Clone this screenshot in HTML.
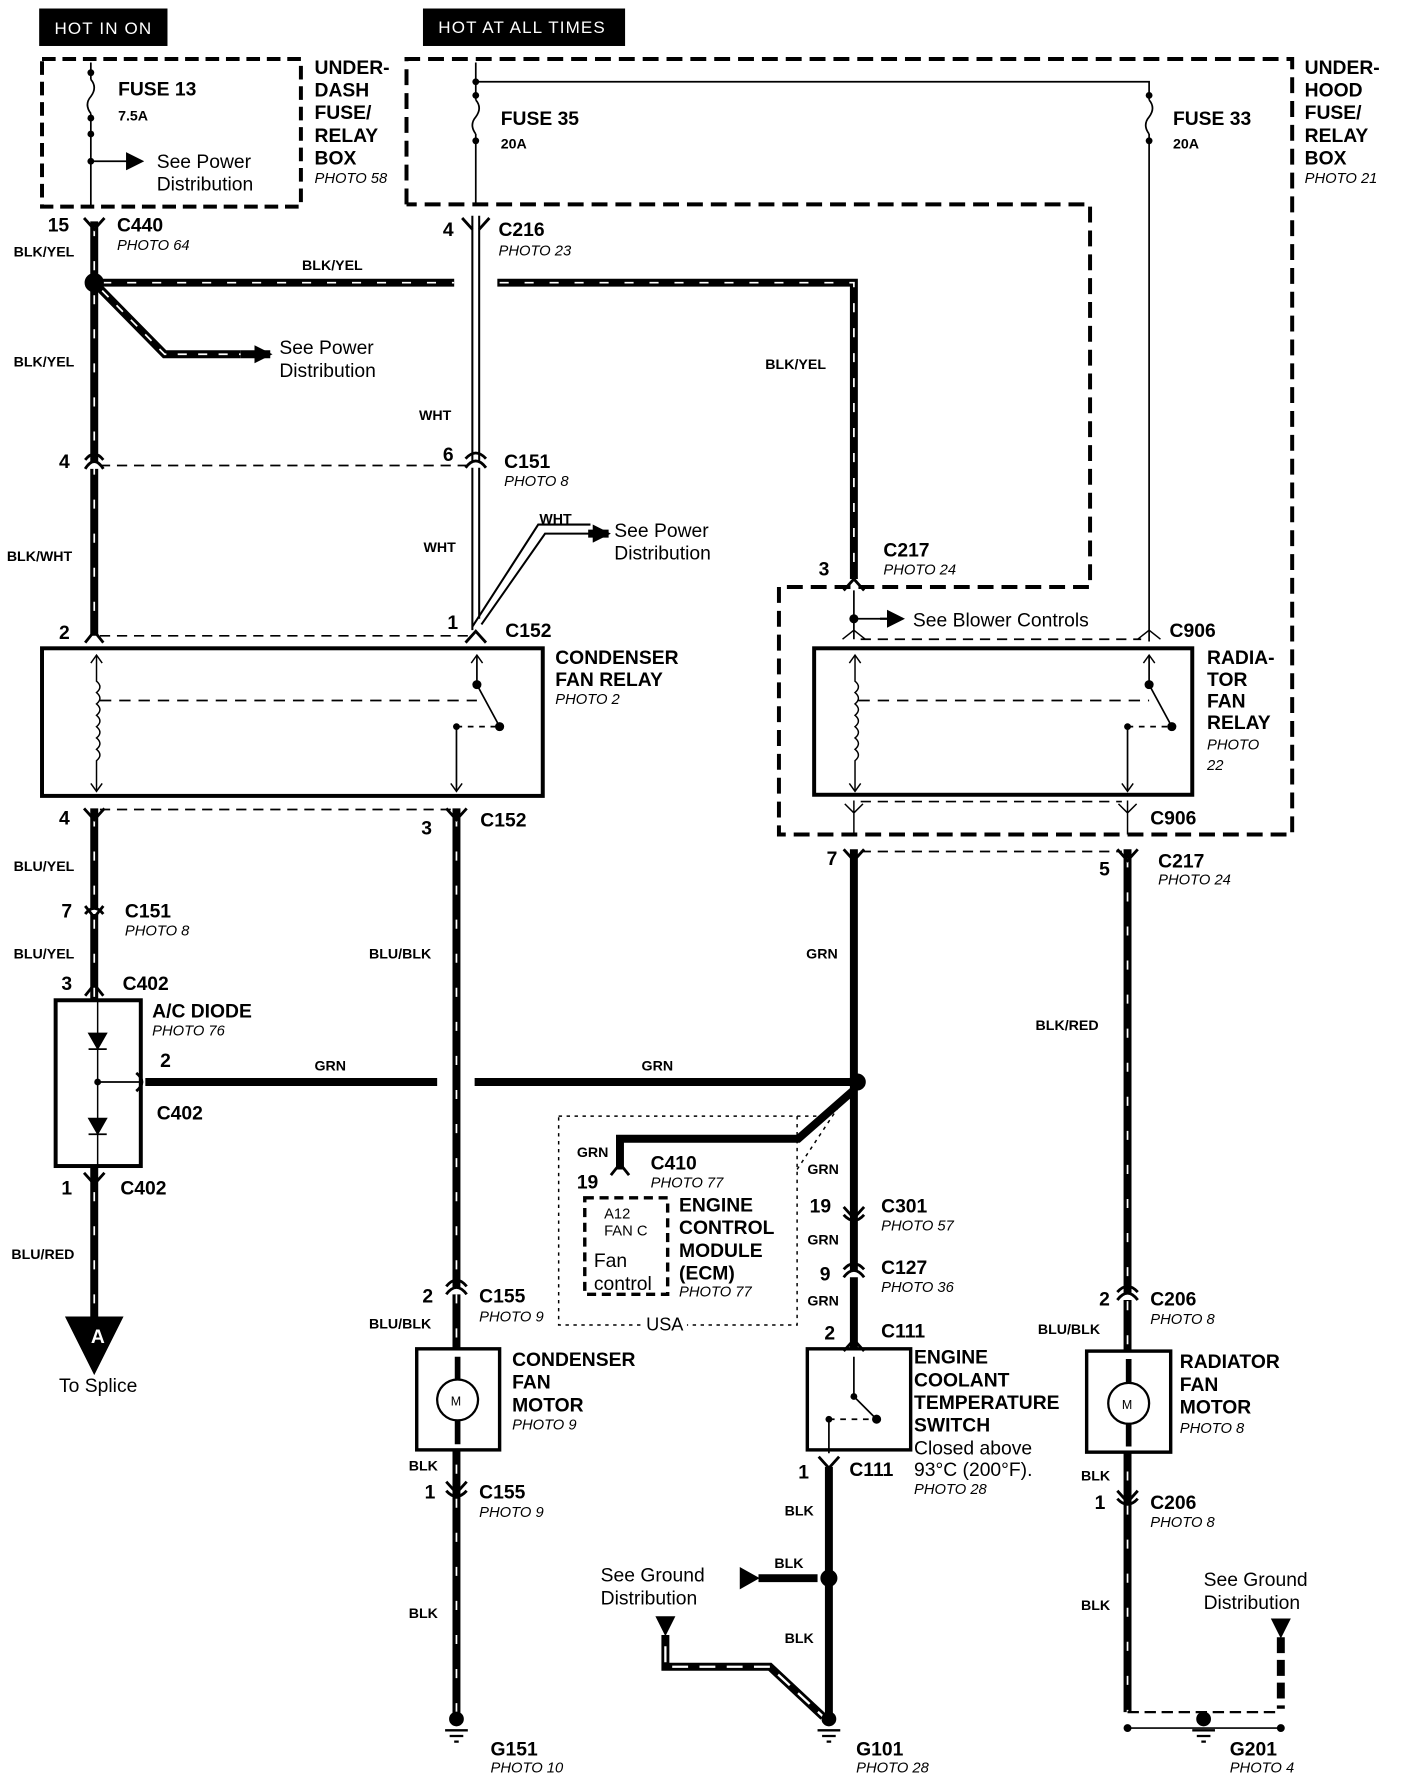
<!DOCTYPE html>
<html><head><meta charset="utf-8"><style>
html,body{margin:0;padding:0;background:#fff}
svg{display:block}
text{font-family:"Liberation Sans",sans-serif;fill:#000}
.b{font-weight:bold;font-size:17px}
.w{font-weight:bold;font-size:12.5px}
.p{font-style:italic;font-size:13px}
.n{font-size:17px}
</style></head><body>
<svg width="1408" height="1778" viewBox="0 0 1240 1566" preserveAspectRatio="none" xmlns="http://www.w3.org/2000/svg">
<defs>
<marker id="ab" markerWidth="16" markerHeight="16" refX="14" refY="8" orient="auto" markerUnits="userSpaceOnUse"><path d="M0,0 L16,8 L0,16 z"/></marker>
</defs>
<g fill="none" stroke="#000">
<rect x="35" y="8" width="112" height="32" fill="#000"/>
<rect x="373" y="8" width="177" height="32" fill="#000"/>
<path d="M37,52 H265 V182 H37 Z" stroke-width="3.5" stroke-dasharray="12,6"/>
<path d="M358,180 V52 H1138 V735 H686 V517 H960 V180 H358" stroke-width="3.5" stroke-dasharray="14,7"/>
<path d="M80,55 V70 M80,100 V182" stroke-width="1.5"/>
<path d="M80,70 q6,7 0,15 q-6,7 0,15" stroke-width="1.5"/>
<path d="M80,142 H125" stroke-width="1.5" marker-end="url(#ab)"/>
<path d="M419,55 V88 M419,118 V180 M419,72 H1012 V88 M1012,118 V565" stroke-width="1.5"/>
<path d="M419,88 q6,7 0,15 q-6,7 0,15 M1012,88 q6,7 0,15 q-6,7 0,15" stroke-width="1.5"/>
<path d="M83,195 V560" stroke-width="7"/>
<path d="M83,200 V560" stroke="#fff" stroke-width="1.5" stroke-dasharray="8,22"/>
<path d="M83,249 H400 M438,249 H752 V510" stroke-width="7"/>
<path d="M90,249 H400 M440,249 H752 V510" stroke="#fff" stroke-width="1.5" stroke-dasharray="8,14"/>
<path d="M83,249 L145,312 H212" stroke-width="7"/>
<path d="M90,256 L145,312 H212" stroke="#fff" stroke-width="1.5" stroke-dasharray="8,10"/>
<path d="M212,312 L238,312" stroke-width="7" marker-end="url(#ab)"/>
<path d="M416,190 V555 M422,190 V545" stroke-width="1.8"/>
<path d="M416,552 L474,462 H520 M424,550 L480,470 H520" stroke-width="1.8"/>
<path d="M518,470 H536" stroke-width="7" marker-end="url(#ab)"/>
<path d="M88,410 H414 M88,560 H414" stroke-width="1.5" stroke-dasharray="9,6"/>
<rect x="37" y="571" width="441" height="130" stroke-width="3.5"/>
<path d="M85,577 V600 q6,5 0,10 q6,5 0,10 q6,5 0,10 q6,5 0,10 q6,5 0,10 q6,5 0,10 q6,5 0,10 V697" stroke-width="1.3"/>
<path d="M80,584 L85,577 L90,584 M80,690 L85,697 L90,690 M415,584 L420,577 L425,584 M397,690 L402,697 L407,690" stroke-width="1.3"/>
<path d="M88,617 H420" stroke-width="1.5" stroke-dasharray="10,7"/>
<path d="M420,577 V603 L440,640 M402,640 V697" stroke-width="1.5"/>
<path d="M402,640 H440" stroke-width="1.5" stroke-dasharray="5,5"/>
<rect x="717" y="571" width="333" height="129" stroke-width="3.5"/>
<path d="M753,577 V600 q6,5 0,10 q6,5 0,10 q6,5 0,10 q6,5 0,10 q6,5 0,10 q6,5 0,10 q6,5 0,10 V697" stroke-width="1.3"/>
<path d="M748,584 L753,577 L758,584 M748,690 L753,697 L758,690 M1007,584 L1012,577 L1017,584 M988,690 L993,697 L998,690" stroke-width="1.3"/>
<path d="M756,617 H1012" stroke-width="1.5" stroke-dasharray="10,7"/>
<path d="M1012,577 V603 L1032,640 M993,640 V697" stroke-width="1.5"/>
<path d="M993,640 H1032" stroke-width="1.5" stroke-dasharray="5,5"/>
<path d="M752,520 V563 M752,545 H775" stroke-width="1.5"/>
<path d="M775,545 H795" stroke-width="2" marker-end="url(#ab)"/>
<path d="M758,563 H1005 M758,706 H988" stroke-width="1.5" stroke-dasharray="9,6"/>
<path d="M742,563 L752,555 L762,563 M1002,563 L1012,555 L1022,563" stroke-width="1.3"/>
<path d="M752,705 V735 M993,705 V735 M744,708 L752,716 L760,708 M985,708 L993,716 L1001,708" stroke-width="1.3"/>
<path d="M758,750 H988 M88,713 H398" stroke-width="1.5" stroke-dasharray="9,6"/>
<path d="M83,712 V1160" stroke-width="7"/>
<path d="M83,720 V1160" stroke="#fff" stroke-width="1.5" stroke-dasharray="8,22"/>
<path d="M58,1160 H108 L83,1210 Z" fill="#000"/>
<rect x="49" y="881" width="75" height="146" stroke-width="3.5" fill="#fff"/>
<path d="M86,881 V1027" stroke-width="1.3"/>
<path d="M78,910 H94 L86,924 Z M78,985 H94 L86,999 Z" fill="#000" stroke-width="1"/>
<path d="M78,924 H94 M78,999 H94 M86,953 H126" stroke-width="1.5"/>
<path d="M402,712 V1510" stroke-width="7"/>
<path d="M402,720 V1510" stroke="#fff" stroke-width="1.5" stroke-dasharray="8,22"/>
<rect x="367" y="1188" width="73" height="89" stroke-width="3" fill="#fff"/>
<circle cx="403" cy="1233" r="18" stroke-width="2"/>
<path d="M403,1195 V1215 M403,1251 V1272" stroke-width="5"/>
<path d="M128,953 H385 M418,953 H755" stroke-width="7"/>
<path d="M752,748 V1188" stroke-width="7"/>
<circle cx="755" cy="953" r="7" fill="#000"/>
<path d="M752,960 L703,1003 H546 V1030" stroke-width="7"/>
<rect x="492" y="983" width="210" height="184" stroke-width="1.3" stroke-dasharray="3,4"/>
<path d="M702,983 H728 L745,965 M702,1030 L745,965" stroke-width="1.3" stroke-dasharray="3,4"/>
<rect x="515" y="1055" width="73" height="85" stroke-width="3" stroke-dasharray="8,5" fill="#fff"/>
<rect x="711" y="1188" width="91" height="89" stroke-width="3" fill="#fff"/>
<path d="M752,1195 V1230 L772,1250 M730,1250 V1280" stroke-width="1.5"/>
<path d="M730,1250 H772" stroke-width="1.5" stroke-dasharray="5,5"/>
<path d="M730,1292 V1510" stroke-width="7"/>
<circle cx="730" cy="1390" r="7" fill="#000"/>
<path d="M668,1390 H720" stroke-width="7"/>
<path d="M652,1381 L668,1390 L652,1399 Z" fill="#000"/>
<path d="M578,1424 H594 L586,1440 Z" fill="#000"/>
<path d="M586,1440 V1468 H678 L725,1512" stroke-width="7"/>
<path d="M586,1450 V1468 H678 L725,1512" stroke="#fff" stroke-width="2" stroke-dasharray="14,10"/>
<path d="M993,748 V1508" stroke-width="7"/>
<path d="M993,756 V1508" stroke="#fff" stroke-width="1.5" stroke-dasharray="8,22"/>
<rect x="957" y="1190" width="74" height="89" stroke-width="3" fill="#fff"/>
<circle cx="994" cy="1236" r="18" stroke-width="2"/>
<path d="M994,1197 V1218 M994,1254 V1274" stroke-width="5"/>
<path d="M1120,1426 H1136 L1128,1442 Z" fill="#000"/>
<path d="M1128,1442 V1505" stroke-width="7" stroke-dasharray="14,6"/>
<path d="M993,1508 H1128" stroke-width="2" stroke-dasharray="10,5"/>
<path d="M993,1522 H1128" stroke-width="1.5"/>
<circle cx="993" cy="1522" r="3" fill="#000"/><circle cx="1128" cy="1522" r="3" fill="#000"/>
<g stroke-width="2">
<path d="M392,1524 H412 M396,1529 H408 M400,1534 H404"/>
<path d="M720,1524 H740 M724,1529 H736 M728,1534 H732"/>
<path d="M1050,1524 H1070 M1054,1529 H1066 M1058,1534 H1062"/>
</g>
<circle cx="402" cy="1514" r="6" fill="#000"/><circle cx="730" cy="1514" r="6" fill="#000"/><circle cx="1060" cy="1514" r="6" fill="#000"/>
<circle cx="83" cy="249" r="8" fill="#000" stroke-width="1"/>
<g fill="#000" stroke="none">
<circle cx="80" cy="64" r="3"/><circle cx="80" cy="104" r="3"/><circle cx="80" cy="118" r="3"/><circle cx="80" cy="142" r="3"/>
<circle cx="419" cy="72" r="3"/><circle cx="419" cy="84" r="3"/><circle cx="419" cy="124" r="3"/>
<circle cx="1012" cy="84" r="3"/><circle cx="1012" cy="124" r="3"/>
<circle cx="420" cy="603" r="4"/><circle cx="440" cy="640" r="4"/><circle cx="402" cy="640" r="3"/>
<circle cx="1012" cy="603" r="4"/><circle cx="1032" cy="640" r="4"/><circle cx="993" cy="640" r="3"/>
<circle cx="752" cy="545" r="4"/>
<circle cx="752" cy="1230" r="3"/><circle cx="772" cy="1250" r="4"/><circle cx="730" cy="1250" r="3"/>
<circle cx="86" cy="953" r="3"/>
</g>
<g stroke-width="2.5" fill="#fff">
<path d="M74,192 L83,202 L92,192" fill="none"/>
<path d="M407,192 L416,202 M431,192 L422,202" fill="none"/>
<path d="M75,413 Q83,400 91,413" /><path d="M75,405 Q83,395 91,405" fill="none"/>
<path d="M410,412 Q419,400 428,412"/><path d="M410,404 Q419,394 428,404" fill="none"/>
<path d="M75,566 L83,556 L91,566" fill="none"/>
<path d="M410,566 L419,556 L428,566" fill="none"/>
<path d="M74,712 L83,722 L92,712" fill="none"/>
<path d="M393,712 L402,722 L411,712" fill="none"/>
<path d="M743,748 L752,758 L761,748" fill="none"/>
<path d="M984,748 L993,758 L1002,748" fill="none"/>
<path d="M743,520 L752,510 L761,520" fill="none"/>
<path d="M75,805 Q83,795 91,805"/><path d="M75,798 L83,808 L91,798" fill="none"/>
<path d="M75,877 L83,867 L91,877" fill="none"/>
<path d="M74,1033 L83,1043 L92,1033" fill="none"/>
<path d="M120,945 Q130,953 120,961" fill="none"/>
<path d="M393,1140 Q402,1128 411,1140"/><path d="M393,1133 Q402,1122 411,1133" fill="none"/>
<path d="M393,1305 L402,1315 L411,1305" fill="none"/><path d="M393,1313 Q402,1323 411,1313" fill="none"/>
<path d="M743,1063 L752,1073 L761,1063" fill="none"/><path d="M743,1070 Q752,1080 761,1070" fill="none"/>
<path d="M743,1125 Q752,1113 761,1125"/><path d="M743,1118 Q752,1108 761,1118" fill="none"/>
<path d="M743,1190 L752,1180 L761,1190" fill="none"/>
<path d="M721,1283 L730,1293 L739,1283" fill="none"/>
<path d="M538,1035 L546,1025 L554,1035" fill="none"/>
<path d="M984,1145 Q993,1133 1002,1145"/><path d="M984,1138 Q993,1128 1002,1138" fill="none"/>
<path d="M984,1313 L993,1323 L1002,1313" fill="none"/><path d="M984,1320 Q993,1330 1002,1320" fill="none"/>
</g>
</g>
<text x="48" y="30" font-size="15" style="fill:#fff" letter-spacing="1">HOT IN ON</text>
<text x="386" y="29" font-size="15" style="fill:#fff" letter-spacing="1">HOT AT ALL TIMES</text>
<text class="b" x="104" y="84">FUSE 13</text><text class="w" x="104" y="106">7.5A</text>
<text class="n" x="138" y="148">See Power</text><text class="n" x="138" y="168">Distribution</text>
<text class="b" x="277" y="65">UNDER-</text><text class="b" x="277" y="85">DASH</text><text class="b" x="277" y="105">FUSE/</text><text class="b" x="277" y="125">RELAY</text><text class="b" x="277" y="145">BOX</text><text class="p" x="277" y="161">PHOTO 58</text>
<text class="b" x="441" y="110">FUSE 35</text><text class="w" x="441" y="131">20A</text>
<text class="b" x="1033" y="110">FUSE 33</text><text class="w" x="1033" y="131">20A</text>
<text class="b" x="1149" y="65">UNDER-</text><text class="b" x="1149" y="85">HOOD</text><text class="b" x="1149" y="105">FUSE/</text><text class="b" x="1149" y="125">RELAY</text><text class="b" x="1149" y="145">BOX</text><text class="p" x="1149" y="161">PHOTO 21</text>
<text class="b" x="42" y="204">15</text><text class="b" x="103" y="204">C440</text><text class="p" x="103" y="220">PHOTO 64</text>
<text class="w" x="12" y="226">BLK/YEL</text><text class="w" x="266" y="238">BLK/YEL</text>
<text class="b" x="390" y="208">4</text><text class="b" x="439" y="208">C216</text><text class="p" x="439" y="225">PHOTO 23</text>
<text class="n" x="246" y="312">See Power</text><text class="n" x="246" y="332">Distribution</text>
<text class="w" x="12" y="323">BLK/YEL</text><text class="w" x="674" y="325">BLK/YEL</text>
<text class="w" x="369" y="370">WHT</text>
<text class="b" x="52" y="412">4</text><text class="b" x="390" y="406">6</text><text class="b" x="444" y="412">C151</text><text class="p" x="444" y="428">PHOTO 8</text>
<text class="w" x="373" y="486">WHT</text><text class="w" x="475" y="461">WHT</text>
<text class="n" x="541" y="473">See Power</text><text class="n" x="541" y="493">Distribution</text>
<text class="w" x="6" y="494">BLK/WHT</text>
<text class="b" x="778" y="490">C217</text><text class="p" x="778" y="506">PHOTO 24</text><text class="b" x="721" y="507">3</text>
<text class="n" x="804" y="552">See Blower Controls</text><text class="b" x="1030" y="561">C906</text>
<text class="b" x="52" y="563">2</text><text class="b" x="394" y="554">1</text><text class="b" x="445" y="561">C152</text>
<text class="b" x="489" y="585">CONDENSER</text><text class="b" x="489" y="604">FAN RELAY</text><text class="p" x="489" y="620">PHOTO 2</text>
<text class="b" x="1063" y="585">RADIA-</text><text class="b" x="1063" y="604">TOR</text><text class="b" x="1063" y="623">FAN</text><text class="b" x="1063" y="642">RELAY</text><text class="p" x="1063" y="660">PHOTO</text><text class="p" x="1063" y="678">22</text>
<text class="b" x="52" y="726">4</text><text class="b" x="371" y="735">3</text><text class="b" x="423" y="728">C152</text>
<text class="b" x="1013" y="726">C906</text>
<text class="b" x="728" y="762">7</text><text class="b" x="968" y="771">5</text><text class="b" x="1020" y="764">C217</text><text class="p" x="1020" y="779">PHOTO 24</text>
<text class="w" x="12" y="767">BLU/YEL</text><text class="b" x="54" y="808">7</text><text class="b" x="110" y="808">C151</text><text class="p" x="110" y="824">PHOTO 8</text>
<text class="w" x="12" y="844">BLU/YEL</text><text class="w" x="325" y="844">BLU/BLK</text><text class="w" x="710" y="844">GRN</text>
<text class="b" x="54" y="872">3</text><text class="b" x="108" y="872">C402</text>
<text class="b" x="134" y="896">A/C DIODE</text><text class="p" x="134" y="912">PHOTO 76</text>
<text class="w" x="912" y="907">BLK/RED</text>
<text class="b" x="141" y="940">2</text><text class="w" x="277" y="943">GRN</text><text class="w" x="565" y="943">GRN</text>
<text class="b" x="138" y="986">C402</text>
<text class="w" x="508" y="1019">GRN</text><text class="b" x="573" y="1030">C410</text><text class="p" x="573" y="1046">PHOTO 77</text>
<text class="w" x="711" y="1034">GRN</text>
<text class="b" x="54" y="1052">1</text><text class="b" x="106" y="1052">C402</text>
<text class="b" x="508" y="1047">19</text>
<text x="532" y="1073" font-size="13">A12</text><text x="532" y="1088" font-size="13">FAN C</text>
<text x="523" y="1116" font-size="17">Fan</text><text x="523" y="1136" font-size="17">control</text>
<text class="b" x="598" y="1067">ENGINE</text><text class="b" x="598" y="1087">CONTROL</text><text class="b" x="598" y="1107">MODULE</text><text class="b" x="598" y="1127">(ECM)</text><text class="p" x="598" y="1142">PHOTO 77</text>
<text class="b" x="713" y="1068">19</text><text class="b" x="776" y="1068">C301</text><text class="p" x="776" y="1084">PHOTO 57</text>
<text class="w" x="711" y="1096">GRN</text>
<text class="b" x="722" y="1128">9</text><text class="b" x="776" y="1122">C127</text><text class="p" x="776" y="1138">PHOTO 36</text>
<text class="w" x="711" y="1150">GRN</text>
<text class="w" x="10" y="1109">BLU/RED</text>
<text x="80" y="1183" font-size="17" style="fill:#fff" font-weight="bold">A</text>
<text class="n" x="52" y="1226">To Splice</text>
<text class="b" x="372" y="1147">2</text><text class="b" x="422" y="1147">C155</text><text class="p" x="422" y="1164">PHOTO 9</text>
<text class="w" x="325" y="1170">BLU/BLK</text>
<rect x="565" y="1158" width="40" height="16" fill="#fff"/>
<text x="569" y="1172" font-size="16">USA</text>
<text class="b" x="726" y="1180">2</text><text class="b" x="776" y="1178">C111</text>
<text class="b" x="968" y="1150">2</text><text class="b" x="1013" y="1150">C206</text><text class="p" x="1013" y="1166">PHOTO 8</text>
<text class="w" x="914" y="1175">BLU/BLK</text>
<text class="b" x="451" y="1203">CONDENSER</text><text class="b" x="451" y="1223">FAN</text><text class="b" x="451" y="1243">MOTOR</text><text class="p" x="451" y="1259">PHOTO 9</text>
<text x="397" y="1238" font-size="11">M</text><text x="988" y="1241" font-size="11">M</text>
<text class="b" x="805" y="1201">ENGINE</text><text class="b" x="805" y="1221">COOLANT</text><text class="b" x="805" y="1241">TEMPERATURE</text><text class="b" x="805" y="1261">SWITCH</text>
<text class="n" x="805" y="1281">Closed above</text><text class="n" x="805" y="1300">93°C (200°F).</text><text class="p" x="805" y="1316">PHOTO 28</text>
<text class="b" x="1039" y="1205">RADIATOR</text><text class="b" x="1039" y="1225">FAN</text><text class="b" x="1039" y="1245">MOTOR</text><text class="p" x="1039" y="1262">PHOTO 8</text>
<text class="w" x="360" y="1295">BLK</text><text class="w" x="952" y="1304">BLK</text>
<text class="b" x="703" y="1302">1</text><text class="b" x="748" y="1300">C111</text>
<text class="b" x="374" y="1320">1</text><text class="b" x="422" y="1320">C155</text><text class="p" x="422" y="1336">PHOTO 9</text>
<text class="b" x="964" y="1329">1</text><text class="b" x="1013" y="1329">C206</text><text class="p" x="1013" y="1345">PHOTO 8</text>
<text class="w" x="691" y="1335">BLK</text><text class="w" x="682" y="1381">BLK</text>
<text class="n" x="529" y="1393">See Ground</text><text class="n" x="529" y="1413">Distribution</text>
<text class="n" x="1060" y="1397">See Ground</text><text class="n" x="1060" y="1417">Distribution</text>
<text class="w" x="360" y="1425">BLK</text><text class="w" x="952" y="1418">BLK</text><text class="w" x="691" y="1447">BLK</text>
<text class="b" x="432" y="1546">G151</text><text class="p" x="432" y="1561">PHOTO 10</text>
<text class="b" x="754" y="1546">G101</text><text class="p" x="754" y="1561">PHOTO 28</text>
<text class="b" x="1083" y="1546">G201</text><text class="p" x="1083" y="1561">PHOTO 4</text>
</svg>
</body></html>
